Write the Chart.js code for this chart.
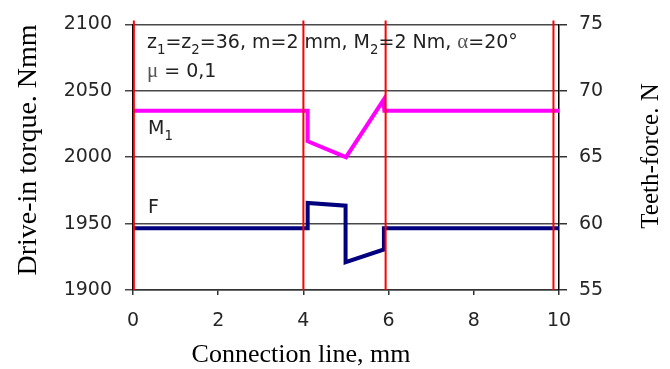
<!DOCTYPE html>
<html>
<head>
<meta charset="utf-8">
<script src="https://cdn.jsdelivr.net/npm/chart.js@4.4.1/dist/chart.umd.min.js"></script>
<style>
  html, body { margin: 0; padding: 0; background: #fff; }
  #wrap { width: 670px; height: 369px; }
</style>
</head>
<body>
<div id="wrap"><canvas id="chart" width="670" height="369"></canvas></div>
<script>
// connection line position (mm) and values
const m1X = [0, 4.1, 4.1, 5.0, 5.88, 5.9, 10];
const m1Torque = [2035, 2035, 2012, 2000, 2043, 2035, 2035]; // Nmm, left axis

const fX = [0, 4.1, 4.1, 4.99, 4.99, 5.89, 5.89, 10];
const fForce = [59.65, 59.65, 61.55, 61.35, 57.1, 58.05, 59.65, 59.65]; // N, right axis

// red vertical marker lines
const markerX = [0.02, 4.0, 5.93, 9.87];

const xTicks = [0, 2, 4, 6, 8, 10];
const torqueTicks = [1900, 1950, 2000, 2050, 2100];
const forceTicks = [55, 60, 65, 70, 75];

const xTitle = "Connection line, mm";
const leftTitle = "Drive-in torque. Nmm";
const rightTitle = "Teeth-force. N";

const tickFont = { family: "DejaVu Sans", size: 19 };
const tickColor = "#262626";
const plain = v => String(v);

const yMin = torqueTicks[0];
const yMax = torqueTicks[torqueTicks.length - 1];

const m1Data = m1X.map((x, i) => ({ x: x, y: m1Torque[i] }));
const fData = fX.map((x, i) => ({ x: x, y: fForce[i] }));
const markerData = markerX.flatMap(x => [{ x: x, y: yMin }, { x: x, y: yMax + 3 }, { x: x, y: null }]);

function richText(ctx, parts, x, y, size) {
  let cx = x;
  parts.forEach(p => {
    let s = p.sub ? size * 0.7 : size;
    if (p.greek) s = size * 1.1;
    ctx.font = s + "px " + (p.greek ? '"Liberation Serif"' : '"DejaVu Sans"');
    ctx.fillStyle = p.greek ? "#555" : "#222";
    ctx.fillText(p.t, cx, y + (p.sub ? size * 0.3 : 0));
    cx += ctx.measureText(p.t).width;
  });
}

const textPlugin = {
  id: "texts",
  afterDraw(chart) {
    const ctx = chart.ctx;
    ctx.save();
    ctx.fillStyle = "#000";
    ctx.textAlign = "center";
    ctx.textBaseline = "middle";

    ctx.font = '28px "Liberation Serif"';
    ctx.save();
    ctx.translate(29, 150);
    ctx.rotate(-Math.PI / 2);
    ctx.fillText(leftTitle, 0, 0);
    ctx.restore();

    ctx.font = '25px "Liberation Serif"';
    ctx.save();
    ctx.translate(651, 156);
    ctx.rotate(-Math.PI / 2);
    ctx.fillText(rightTitle, 0, 0);
    ctx.restore();

    ctx.font = '26px "Liberation Serif"';
    ctx.fillText(xTitle, 301, 355);

    // annotation
    ctx.textAlign = "left";
    ctx.textBaseline = "alphabetic";
    richText(ctx, [
      { t: "z" }, { t: "1", sub: true }, { t: "=z" }, { t: "2", sub: true },
      { t: "=36, m=2 mm, M" }, { t: "2", sub: true }, { t: "=2 Nm, " },
      { t: "α", greek: true }, { t: "=20°" }
    ], 147, 48, 19);
    richText(ctx, [{ t: "μ", greek: true }, { t: " = 0,1" }], 147, 77, 19);

    richText(ctx, [{ t: "M" }, { t: "1", sub: true }], 148, 134, 19);
    richText(ctx, [{ t: "F" }], 148, 213, 19);
    ctx.restore();
  }
};

new Chart(document.getElementById("chart"), {
  type: "line",
  data: {
    datasets: [
      {
        label: "markers",
        data: markerData,
        yAxisID: "yL",
        borderColor: "#ff0000",
        borderWidth: 2,
        spanGaps: false,
        clip: false,
      },
      {
        label: "M1",
        data: m1Data,
        yAxisID: "yL",
        borderColor: "#ff00ff",
        borderWidth: 4,
      },
      {
        label: "F",
        data: fData,
        yAxisID: "yR",
        borderColor: "#00007f",
        borderWidth: 4,
      },
    ],
  },
  options: {
    responsive: false,
    animation: false,
    elements: {
      point: { radius: 0 },
      line: { tension: 0, borderJoinStyle: "miter", borderCapStyle: "butt" },
    },
    layout: { padding: { top: 22, left: 0, right: 0, bottom: 0 } },
    plugins: { legend: { display: false }, tooltip: { enabled: false } },
    scales: {
      x: {
        type: "linear",
        position: "bottom",
        min: xTicks[0],
        max: xTicks[xTicks.length - 1],
        afterBuildTicks: s => { s.ticks = xTicks.map(v => ({ value: v })); },
        afterFit: s => { s.height = 79; },
        grid: { drawOnChartArea: false, tickLength: 5, color: "#333", lineWidth: 1.5 },
        border: { color: "#333", width: 1.5 },
        ticks: { font: tickFont, color: tickColor, padding: 15, maxRotation: 0, callback: plain },
      },
      yL: {
        position: "left",
        min: yMin,
        max: yMax,
        afterBuildTicks: s => { s.ticks = torqueTicks.map(v => ({ value: v })); },
        afterFit: s => { s.width = 133; },
        grid: { color: "#484848", lineWidth: 1.5, tickLength: 8 },
        border: { color: "#000", width: 1.5 },
        ticks: { font: tickFont, color: tickColor, padding: 13, callback: plain },
      },
      yR: {
        position: "right",
        min: forceTicks[0],
        max: forceTicks[forceTicks.length - 1],
        afterBuildTicks: s => { s.ticks = forceTicks.map(v => ({ value: v })); },
        afterFit: s => { s.width = 111; },
        grid: { drawOnChartArea: false, color: "#333", lineWidth: 1.5, tickLength: 8 },
        border: { color: "#000", width: 1.5 },
        ticks: { font: tickFont, color: tickColor, padding: 12, callback: plain },
      },
    },
  },
  plugins: [textPlugin],
});
</script>
</body>
</html>
